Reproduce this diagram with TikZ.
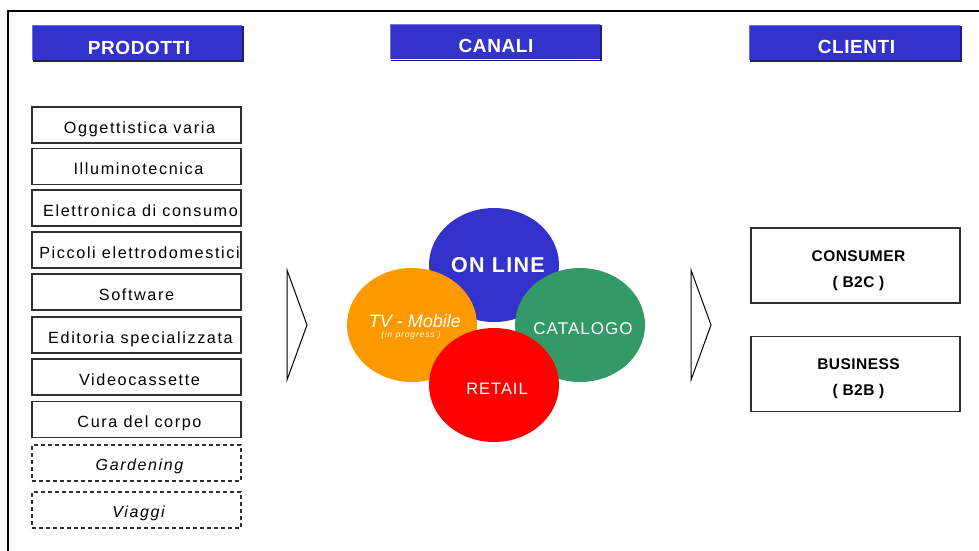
\documentclass[tikz,border=0pt]{standalone}
\usepackage{fontspec}
\setmainfont{Liberation Sans}
\newfontfamily\trkA[LetterSpace=10]{Liberation Sans}
\newfontfamily\trkB[LetterSpace=3]{Liberation Sans}
\newfontfamily\trkC[LetterSpace=6]{Liberation Sans}
\newfontfamily\trkD[LetterSpace=10]{Liberation Sans}
\usetikzlibrary{shapes.geometric}
\definecolor{hdrblue}{HTML}{3333CC}
\definecolor{hdrlight}{HTML}{6F6FE0}
\definecolor{hdrdark}{HTML}{1C1C80}
\definecolor{chorange}{HTML}{FF9900}
\definecolor{chgreen}{HTML}{339966}
\definecolor{chred}{HTML}{FF0000}
\definecolor{boxline}{HTML}{303030}
\tikzset{
  hdr/.style={rectangle, fill=hdrblue, inner sep=0pt, minimum width=210pt, minimum height=35pt},
  hdrtext/.style={anchor=base, text=white, font=\trkB\bfseries\fontsize{19}{22}\selectfont},
  pbox/.style={rectangle, draw=boxline, line width=1.1pt, fill=white, inner sep=0pt,
    minimum width=209pt, minimum height=36pt},
  pboxdash/.style={pbox, dash pattern=on 4pt off 3pt},
  ptext/.style={anchor=base, font=\trkA\fontsize{16.2}{19}\selectfont},
  ptextit/.style={ptext, font=\trkA\itshape\fontsize{16}{19}\selectfont},
  cbox/.style={rectangle, draw=boxline, line width=1.1pt, fill=white, inner sep=0pt,
    minimum width=209pt, minimum height=75pt},
  ctext/.style={anchor=base, font=\trkB\bfseries\fontsize{15.5}{18}\selectfont},
  channel/.style={ellipse, inner sep=0pt, minimum width=130pt, minimum height=114pt},
  chtext/.style={anchor=base, text=white},
  flowmark/.style={draw=black, line width=1pt, line join=miter},
}
\newcommand{\bevel}[1]{%
  \draw[hdrdark, line width=1.6pt]
    ([xshift=0.8pt,yshift=-0.8pt]#1.south west) -- ([xshift=0.8pt,yshift=-0.8pt]#1.south east)
    -- ([xshift=0.8pt,yshift=-0.8pt]#1.north east);
  \draw[hdrlight, line width=1.2pt]
    ([xshift=0.6pt,yshift=0.6pt]#1.south west) -- ([xshift=0.6pt,yshift=-0.6pt]#1.north west)
    -- ([xshift=-0.6pt,yshift=-0.6pt]#1.north east);
}
\begin{document}
\begin{tikzpicture}[x=1pt,y=-1pt]
\useasboundingbox (0,0) rectangle (979,551);
\fill[white] (0,0) rectangle (979,551);

% outer frame (open to the right and bottom)
\coordinate (fbot) at (8,551);
\coordinate (fcorner) at (8,11);
\coordinate (fright) at (979,11);
\draw[line width=1.3pt] (fbot) -- (fcorner) -- (fright);

% column headers
\node[hdr] (hprod) at (137,42.5) {};
\node[hdr] (hcan) at (495,42) {};
\node[hdr, minimum width=211pt] (hcli) at (854.5,42.5) {};
\bevel{hprod}
\bevel{hcan}
\bevel{hcli}
\node[hdrtext] (tprod) at ([xshift=2pt,yshift=-12.5pt]hprod.center) {PRODOTTI};
\node[hdrtext] (tcan) at ([xshift=1pt,yshift=-10.5pt]hcan.center) {CANALI};
\node[hdrtext] (tcli) at ([xshift=2pt,yshift=-11.5pt]hcli.center) {CLIENTI};

% product list
\node[pbox] (p1) at (136.5,125) {};
\node[pbox] (p2) at (136.5,166.5) {};
\node[pbox] (p3) at (136.5,208) {};
\node[pbox] (p4) at (136.5,250) {};
\node[pbox] (p5) at (136.5,292) {};
\node[pbox] (p6) at (136.5,335) {};
\node[pbox] (p7) at (136.5,377) {};
\node[pbox] (p8) at (136.5,419.5) {};
\node[pboxdash] (p9) at (136.5,463) {};
\node[pboxdash] (p10) at (136.5,510) {};
\node[ptext] (l1) at ([xshift=3pt,yshift=-8pt]p1.center) {Oggettistica varia};
\node[ptext] (l2) at ([xshift=2pt,yshift=-8pt]p2.center) {Illuminotecnica};
\node[ptext] (l3) at ([xshift=4pt,yshift=-8pt]p3.center) {Elettronica di consumo};
\node[ptext] (l4) at ([xshift=3pt,yshift=-8pt]p4.center) {Piccoli elettrodomestici};
\node[ptext] (l5) at ([xshift=0pt,yshift=-8pt]p5.center) {Software};
\node[ptext] (l6) at ([xshift=4pt,yshift=-8pt]p6.center) {Editoria specializzata};
\node[ptext] (l7) at ([xshift=3pt,yshift=-8pt]p7.center) {Videocassette};
\node[ptext] (l8) at ([xshift=3pt,yshift=-8pt]p8.center) {Cura del corpo};
\node[ptextit] (l9) at ([xshift=3pt,yshift=-7pt]p9.center) {Gardening};
\node[ptextit] (l10) at ([xshift=2pt,yshift=-7pt]p10.center) {Viaggi};

% flow marks between the columns
\coordinate (a1t) at (287,270);
\coordinate (a1p) at (307,325);
\coordinate (a1b) at (287,380);
\draw[flowmark] (a1t) -- (a1p) -- (a1b) -- cycle;
\coordinate (a2t) at (691,270);
\coordinate (a2p) at (711,325);
\coordinate (a2b) at (691,380);
\draw[flowmark] (a2t) -- (a2p) -- (a2b) -- cycle;

% sales channels
\node[channel, fill=hdrblue] (online) at (494,265) {};
\node[channel, fill=chgreen] (catalogo) at (580,325) {};
\node[channel, fill=chorange] (tv) at (412,325) {};
\node[channel, fill=chred] (retail) at (494,385) {};
\node[chtext, font=\trkC\bfseries\fontsize{21.5}{24}\selectfont] (tonline) at ([xshift=4pt,yshift=-7.5pt]online.center) {ON LINE};
\node[chtext, font=\itshape\fontsize{18}{21}\selectfont] (ttv) at ([xshift=3pt,yshift=-2.5pt]tv.center) {TV - Mobile};
\node[chtext, font=\trkD\itshape\fontsize{8.5}{10}\selectfont] (tprog) at ([xshift=-1pt,yshift=-12.5pt]tv.center) {(in progress )};
\node[chtext, font=\trkC\fontsize{17}{20}\selectfont] (tcat) at ([xshift=3pt,yshift=-9.5pt]catalogo.center) {CATALOGO};
\node[chtext, font=\trkC\fontsize{16.5}{19}\selectfont] (tret) at ([xshift=3pt,yshift=-9.5pt]retail.center) {RETAIL};

% customer segments
\node[cbox] (cons) at (855.5,265.5) {};
\node[cbox] (bus) at (855.5,374) {};
\node[ctext] (tc1) at ([xshift=3pt,yshift=4.5pt]cons.center) {CONSUMER};
\node[ctext] (tc2) at ([xshift=3pt,yshift=-21.5pt]cons.center) {( B2C )};
\node[ctext] (tb1) at ([xshift=3pt,yshift=5pt]bus.center) {BUSINESS};
\node[ctext] (tb2) at ([xshift=3pt,yshift=-21pt]bus.center) {( B2B )};
\end{tikzpicture}
\end{document}
